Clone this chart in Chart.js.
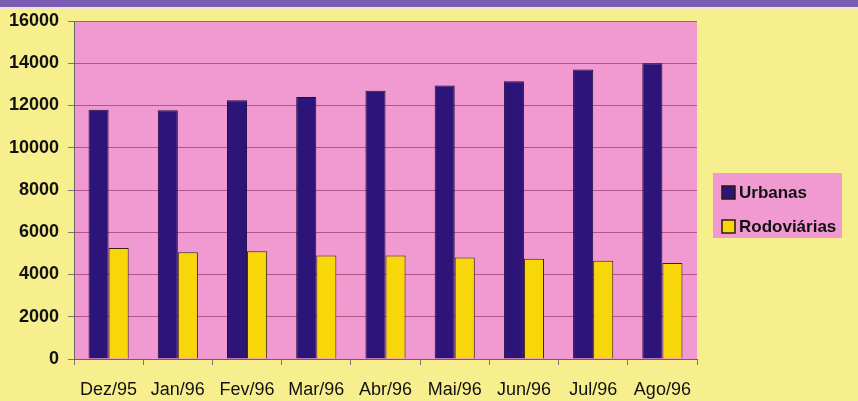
<!DOCTYPE html>
<html>
<head>
<meta charset="utf-8">
<script src="https://cdn.jsdelivr.net/npm/chart.js@4.4.1/dist/chart.umd.min.js"></script>
<style>
  html, body { margin: 0; padding: 0; background: #f7ef8e; }
  #wrap { position: relative; width: 858px; height: 401px; overflow: hidden; background: #f7ef8e; }
  #band { position: absolute; left: 0; top: 0; width: 858px; height: 7px; background: #7a5cb2; border-bottom: 2px solid #ece6cf; }
  canvas { position: absolute; left: 0; top: 0; }
</style>
</head>
<body>
<div id="wrap">
  <canvas id="chart" width="858" height="401"></canvas>
  <div id="band"></div>
</div>
<script>
const months = ['Dez/95', 'Jan/96', 'Fev/96', 'Mar/96', 'Abr/96', 'Mai/96', 'Jun/96', 'Jul/96', 'Ago/96'];
const urbanas = [11800, 11780, 12250, 12400, 12700, 12950, 13150, 13700, 14000];
const rodoviarias = [5250, 5050, 5100, 4900, 4900, 4800, 4750, 4650, 4550];
const yMax = 16000;
const yStep = 2000;

const FONT = '"Liberation Sans", Arial, sans-serif';
const PINK = '#f09ad1';

// pink plot background
const plotBg = {
  id: 'plotBg',
  beforeDraw(chart) {
    const { ctx, chartArea: a } = chart;
    ctx.save();
    ctx.fillStyle = PINK;
    ctx.fillRect(a.left, a.top, a.right - a.left, a.bottom - a.top);
    ctx.restore();
  }
};

// legend box to the right of the plot
const sideLegend = {
  id: 'sideLegend',
  afterDraw(chart) {
    const { ctx } = chart;
    const x = 713, y = 173, w = 129, h = 65;
    ctx.save();
    ctx.fillStyle = PINK;
    ctx.fillRect(x, y, w, h);
    ctx.font = 'bold 17px ' + FONT;
    ctx.textBaseline = 'middle';
    chart.data.datasets.forEach((ds, i) => {
      const cy = y + 20 + i * 34;
      ctx.fillStyle = ds.backgroundColor;
      ctx.fillRect(x + 9, cy - 7, 13, 13);
      ctx.strokeStyle = '#2a1a10';
      ctx.lineWidth = 1.5;
      ctx.strokeRect(x + 9, cy - 7, 13, 13);
      ctx.fillStyle = '#111';
      ctx.fillText(ds.label, x + 26, cy);
    });
    ctx.restore();
  }
};

new Chart(document.getElementById('chart'), {
  type: 'bar',
  data: {
    labels: months,
    datasets: [
      { label: 'Urbanas', data: urbanas, backgroundColor: '#2d1479', borderColor: '#1e0e40', borderWidth: 1 },
      { label: 'Rodoviárias', data: rodoviarias, backgroundColor: '#f7d60a', borderColor: '#3a2410', borderWidth: 1 }
    ]
  },
  options: {
    responsive: false,
    animation: false,
    layout: { padding: { top: 21, right: 161, bottom: 0, left: 0 } },
    plugins: { legend: { display: false }, tooltip: { enabled: false } },
    datasets: { bar: { barPercentage: 1, categoryPercentage: 0.58 } },
    scales: {
      x: {
        offset: true,
        grid: { drawOnChartArea: false, tickLength: 6, tickColor: '#777', offset: true },
        border: { color: '#666', width: 1 },
        ticks: { autoSkip: false, maxRotation: 0, padding: 14, color: '#111', font: { family: FONT, size: 18 } },
        afterFit(scale) { scale.height = 42; }
      },
      y: {
        min: 0,
        max: yMax,
        ticks: {
          stepSize: yStep, padding: 9, color: '#111',
          font: { family: FONT, size: 18, weight: 'bold' },
          callback: v => String(v)
        },
        grid: { color: 'rgba(140,40,85,0.6)', lineWidth: 1, tickLength: 6, tickColor: '#777' },
        border: { color: '#666', width: 1 },
        afterFit(scale) { scale.width = 74; }
      }
    }
  },
  plugins: [plotBg, sideLegend]
});
</script>
</body>
</html>
